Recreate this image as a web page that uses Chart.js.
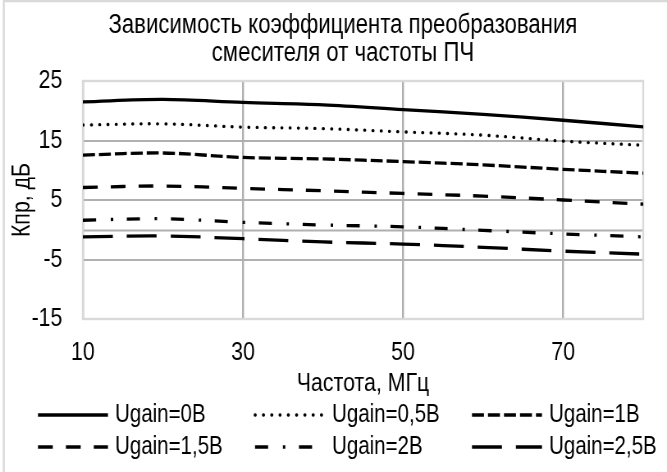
<!DOCTYPE html>
<html lang="ru">
<head>
<meta charset="utf-8">
<title>Зависимость коэффициента преобразования смесителя от частоты ПЧ</title>
<script src="https://cdn.jsdelivr.net/npm/chart.js@4.4.1/dist/chart.umd.min.js"></script>
<style>
  html, body { margin: 0; padding: 0; background: #fff; overflow: hidden; }
  /* узкое начертание: холст рисуется шире и сжимается по горизонтали */
  #wrap { width: 813px; height: 472px; transform: scaleX(0.8204); transform-origin: 0 0; }
  canvas { display: block; }
</style>
</head>
<body>
<div id="wrap"><canvas id="chart" width="813" height="472"></canvas></div>
<script>
// частота ПЧ, МГц
const freq = [10, 20, 30, 40, 50, 60, 70, 80];
// Кпр, дБ при разных напряжениях Ugain
const kUgain0   = [21.5, 21.9, 21.4, 21.0, 20.2, 19.4, 18.4, 17.3];
const kUgain05  = [17.6, 17.8, 17.25, 17.0, 16.45, 15.9, 14.9, 14.2];
const kUgain1   = [12.55, 12.9, 12.15, 11.9, 11.45, 10.9, 10.15, 9.5];
const kUgain15  = [7.1, 7.35, 6.95, 6.55, 6.1, 5.65, 5.0, 4.3];
const kUgain2   = [1.6, 1.85, 1.25, 0.8, 0.5, -0.1, -0.7, -1.2];
const kUgain25  = [-1.2, -1.05, -1.5, -2.05, -2.4, -2.95, -3.6, -4.1];
const seriesNames = ["Ugain=0В", "Ugain=0,5В", "Ugain=1В", "Ugain=1,5В", "Ugain=2В", "Ugain=2,5В"];
const xTicks = [10, 30, 50, 70];
const yTicks = [-15, -5, 5, 15, 25];
const titleLines = ["Зависимость коэффициента преобразования", "смесителя от частоты ПЧ"];
const yTitle = "Кпр, дБ";

const SX = 0.8204;               // горизонтальное сжатие
const FONT = '"Liberation Sans", Arial, sans-serif';
const GRID = "#b0b0b0";
const FRAME = "#d9d9d9";

// сплошная, точки, штрих, длинный штрих, штрих-точка, длинный штрих
const lineStyles = [
  { dash: [], cap: "butt" },
  { dash: [0.5, 9.6], cap: "round" },
  { dash: [14.6, 4.9], cap: "butt" },
  { dash: [18, 16], cap: "butt" },
  { dash: [16, 18, 3, 16.6], cap: "butt" },
  { dash: [36.5, 17], cap: "butt" }
];
const allSeries = [kUgain0, kUgain05, kUgain1, kUgain15, kUgain2, kUgain25];

const datasets = allSeries.map((vals, i) => ({
  label: seriesNames[i],
  data: freq.map((f, j) => ({ x: f, y: vals[j] })),
  borderColor: "#000",
  borderWidth: 3.3,
  borderDash: lineStyles[i].dash,
  borderCapStyle: lineStyles[i].cap,
  pointRadius: 0,
  tension: 0.35,
  fill: false
}));

// заголовок, подпись оси Y, рамки, нулевая линия и легенда в три колонки
const decorPlugin = {
  id: "decor",
  beforeDraw(chart) {
    const { ctx } = chart;
    ctx.save();
    ctx.strokeStyle = FRAME;
    ctx.lineWidth = 2.4;
    ctx.beginPath();
    ctx.moveTo(4.6, chart.height);
    ctx.lineTo(4.6, 1);
    ctx.lineTo(chart.width, 1);
    ctx.stroke();
    ctx.restore();
  },
  beforeDatasetsDraw(chart) {
    const { ctx, chartArea: a, scales } = chart;
    ctx.save();
    const y0 = Math.round(scales.y.getPixelForValue(0)) + 0.5;
    ctx.strokeStyle = GRID;
    ctx.lineWidth = 2;
    ctx.beginPath();
    ctx.moveTo(a.left, y0);
    ctx.lineTo(a.right, y0);
    ctx.stroke();
    ctx.strokeStyle = FRAME;
    ctx.lineWidth = 2.4;
    ctx.strokeRect(a.left, a.top, a.right - a.left, a.bottom - a.top);
    ctx.restore();
  },
  afterDraw(chart) {
    const { ctx, chartArea: a } = chart;
    ctx.save();
    ctx.fillStyle = "#000";
    ctx.textBaseline = "middle";
    ctx.textAlign = "center";
    ctx.font = "27px " + FONT;
    titleLines.forEach((t, i) => ctx.fillText(t, 418, 26 + i * 27.5));

    // подпись оси Y (повёрнутая, сжатие вдоль текста)
    ctx.font = "26px " + FONT;
    ctx.save();
    ctx.translate(27, (a.top + a.bottom) / 2);
    ctx.rotate(-Math.PI / 2);
    ctx.scale(SX, 1 / SX);
    ctx.fillText(yTitle, 0, 0);
    ctx.restore();

    const colX = [46.3, 310.8, 575.3];
    const rowY = [415, 447];
    ctx.font = "25px " + FONT;
    ctx.textAlign = "left";
    chart.data.datasets.forEach((ds, i) => {
      const x = colX[i % 3];
      const y = rowY[Math.floor(i / 3)];
      ctx.strokeStyle = ds.borderColor;
      ctx.lineWidth = ds.borderWidth;
      ctx.lineCap = ds.borderCapStyle;
      ctx.setLineDash(ds.borderDash);
      ctx.beginPath();
      ctx.moveTo(x, y);
      ctx.lineTo(x + 85.3, y);
      ctx.stroke();
      ctx.setLineDash([]);
      ctx.fillText(ds.label, x + 93.9, y);
    });
    ctx.restore();
  }
};

new Chart(document.getElementById("chart"), {
  type: "line",
  data: { datasets },
  plugins: [decorPlugin],
  options: {
    responsive: false,
    animation: false,
    layout: { padding: { left: 0, right: 29, top: 81, bottom: 70 } },
    plugins: {
      legend: { display: false },
      tooltip: { enabled: false },
      title: { display: false }
    },
    scales: {
      x: {
        type: "linear",
        min: 10,
        max: 80,
        afterFit: s => { s.height = 83; },
        afterBuildTicks: s => { s.ticks = xTicks.map(v => ({ value: v })); },
        grid: { color: GRID, lineWidth: 2.4, drawTicks: false },
        border: { display: false },
        ticks: { color: "#000", padding: 18, font: { family: FONT, size: 26 } },
        title: {
          display: true,
          text: "Частота, МГц",
          color: "#000",
          font: { family: FONT, size: 26, lineHeight: 1.0 },
          padding: { top: 0, bottom: 5 }
        }
      },
      y: {
        min: -15,
        max: 25,
        afterFit: s => { s.width = 101; },
        afterBuildTicks: s => { s.ticks = yTicks.map(v => ({ value: v })); },
        grid: { color: GRID, lineWidth: 2, drawTicks: false },
        border: { display: false },
        ticks: { color: "#000", padding: 25, font: { family: FONT, size: 26 } }
      }
    }
  }
});
</script>
</body>
</html>
